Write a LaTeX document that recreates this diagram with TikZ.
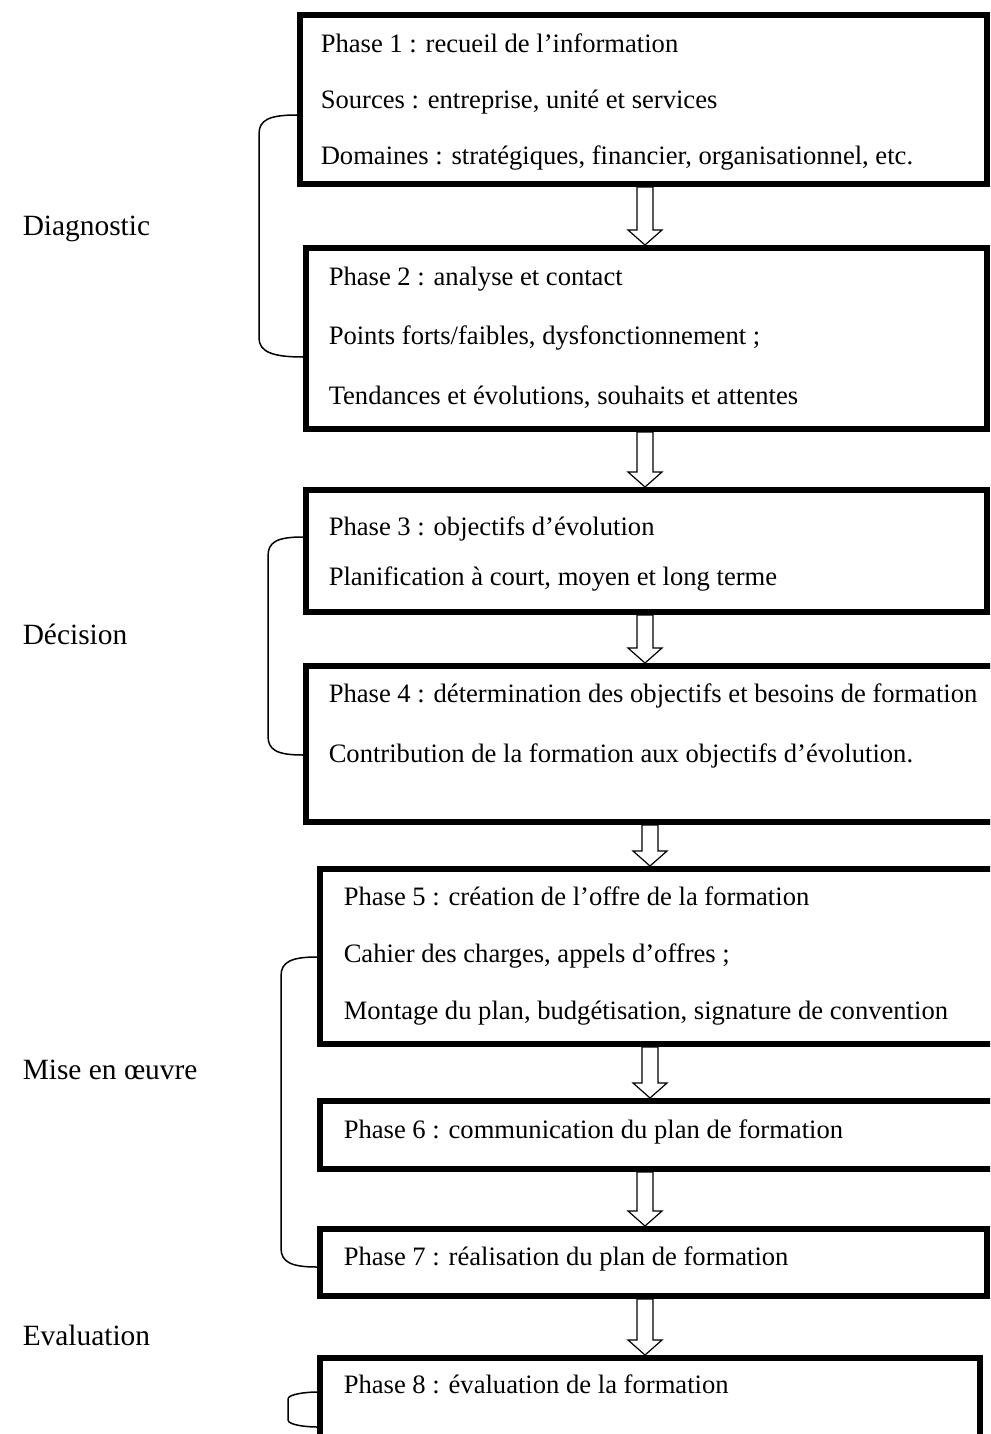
\documentclass[tikz,border=0pt]{standalone}
\usepackage{fontspec}
\setmainfont{Liberation Serif}
\usetikzlibrary{positioning,calc}
\tikzset{every picture/.style={line width=0.75pt}}
\tikzset{
  phase/.style={draw, line width=3.2pt, anchor=north west, inner sep=0pt},
  phasetext/.style={anchor=north west, align=left, inner sep=0pt},
  stage/.style={anchor=base west, inner sep=0pt, font=\fontsize{14.7}{18}\selectfont},
  bracket/.style={line width=0.75pt},
  hollow/.style={draw, fill=white, line width=0.6pt, to path={
    ($(\tikztostart)+(-8,0)$) -- ($(\tikztotarget)+(-8,-15)$) -- ($(\tikztotarget)+(-17,-15)$)
    -- (\tikztotarget) -- ($(\tikztotarget)+(17,-15)$) -- ($(\tikztotarget)+(8,-15)$)
    -- ($(\tikztostart)+(8,0)$) -- cycle}}
}
\begin{document}
\begin{tikzpicture}[x=0.5pt, y=-0.5pt]
    \useasboundingbox (0,0) rectangle (990,1434);
    \clip (0,0) rectangle (990,1434);

    % the eight phases
    \node[phase, minimum width=343.3pt, minimum height=84.3pt] (B1) at (297,12) {};
    \node[phase, minimum width=340.3pt, minimum height=90.3pt] (B2) at (303,245) {};
    \node[phase, minimum width=340.3pt, minimum height=60.8pt] (B3) at (303,487) {};
    \node[phase, minimum width=350.3pt, minimum height=77.8pt] (B4) at (303,663) {};
    \node[phase, minimum width=343.3pt, minimum height=87.3pt] (B5) at (317,866) {};
    \node[phase, minimum width=343.3pt, minimum height=33.8pt] (B6) at (317,1098) {};
    \node[phase, minimum width=333.3pt, minimum height=33.3pt] (B7) at (317,1226) {};
    \node[phase, minimum width=329.8pt, minimum height=44.3pt] (B8) at (317,1355) {};

    \node[phasetext, font=\fontsize{13.3}{28}\selectfont] (T1) at ($(B1.north west)+(23,21)$)
        {Phase 1 : recueil de l’information\\Sources : entreprise, unité et services\\Domaines : stratégiques, financier, organisationnel, etc.};
    \node[phasetext, font=\fontsize{13.3}{29.75}\selectfont] (T2) at ($(B2.north west)+(25,21)$)
        {Phase 2 : analyse et contact\\Points forts/faibles, dysfonctionnement ;\\Tendances et évolutions, souhaits et attentes};
    \node[phasetext, font=\fontsize{13.3}{25}\selectfont] (T3) at ($(B3.north west)+(25,29)$)
        {Phase 3 : objectifs d’évolution\\Planification à court, moyen et long terme};
    \node[phasetext, font=\fontsize{13.3}{30}\selectfont] (T4) at ($(B4.north west)+(25,20)$)
        {Phase 4 : détermination des objectifs et besoins de formation\\Contribution de la formation aux objectifs d’évolution.};
    \node[phasetext, font=\fontsize{13.3}{28.5}\selectfont] (T5) at ($(B5.north west)+(26,20)$)
        {Phase 5 : création de l’offre de la formation\\Cahier des charges, appels d’offres ;\\Montage du plan, budgétisation, signature de convention};
    \node[phasetext, font=\fontsize{13.3}{16}\selectfont] (T6) at ($(B6.north west)+(26,21)$)
        {Phase 6 : communication du plan de formation};
    \node[phasetext, font=\fontsize{13.3}{16}\selectfont] (T7) at ($(B7.north west)+(26,20)$)
        {Phase 7 : réalisation du plan de formation};
    \node[phasetext, font=\fontsize{13.3}{16}\selectfont] (T8) at ($(B8.north west)+(26,19)$)
        {Phase 8 : évaluation de la formation};

    % hollow arrows between phases
    \coordinate (a1) at (B1.south -| 645,0);
    \coordinate (b1) at (B2.north -| 645,0);
    \coordinate (a2) at (B2.south -| 645,0);
    \coordinate (b2) at (B3.north -| 645,0);
    \coordinate (a3) at (B3.south -| 645,0);
    \coordinate (b3) at (B4.north -| 645,0);
    \coordinate (a4) at (B4.south -| 650,0);
    \coordinate (b4) at (B5.north -| 650,0);
    \coordinate (a5) at (B5.south -| 650,0);
    \coordinate (b5) at (B6.north -| 650,0);
    \coordinate (a6) at (B6.south -| 645,0);
    \coordinate (b6) at (B7.north -| 645,0);
    \coordinate (a7) at (B7.south -| 645,0);
    \coordinate (b7) at (B8.north -| 645,0);
    \draw[hollow] (a1) to (b1);
    \draw[hollow] (a2) to (b2);
    \draw[hollow] (a3) to (b3);
    \draw[hollow] (a4) to (b4);
    \draw[hollow] (a5) to (b5);
    \draw[hollow] (a6) to (b6);
    \draw[hollow] (a7) to (b7);

    % stages on the left
    \node[stage] (diag) at (22,235) {Diagnostic};
    \node[stage] (deci) at (22,644) {Décision};
    \node[stage] (mise) at (22,1079) {Mise en œuvre};
    \node[stage] (eval) at (22,1345) {Evaluation};

    \draw[bracket] (B1.west |- 0,115) .. controls +(-28,0) and +(0,-14) .. (259,134)
        -- (259,338) .. controls +(0,14) and +(-30,0) .. (B2.west |- 0,357);
    \draw[bracket] (B3.west |- 0,537) .. controls +(-26,0) and +(0,-14) .. (268,556)
        -- (268,736) .. controls +(0,14) and +(-26,0) .. (B4.west |- 0,755);
    \draw[bracket] (B5.west |- 0,957) .. controls +(-26,0) and +(0,-14) .. (281,976)
        -- (281,1248) .. controls +(0,14) and +(-26,0) .. (B7.west |- 0,1267);
    \draw[bracket] (B8.west |- 0,1392) .. controls +(-10,0) and +(0,-5) .. (288,1399)
        -- (288,1420) .. controls +(0,5) and +(-10,0) .. (B8.west |- 0,1427);
\end{tikzpicture}
\end{document}
